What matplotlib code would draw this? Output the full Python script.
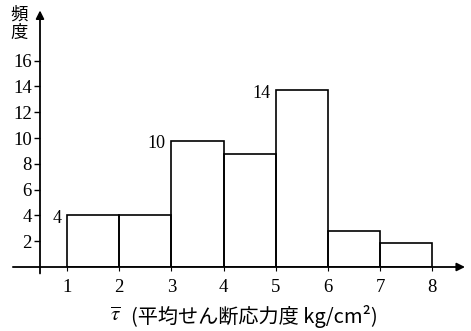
import matplotlib
matplotlib.use("Agg")
import matplotlib.pyplot as plt

# Data
bin_edges = [1, 2, 3, 4, 5, 6, 7, 8]
freq = [4, 4, 9.8, 8.8, 13.7, 2.8, 1.9]
bar_labels = {0: "4", 2: "10", 4: "14"}
yticks = [2, 4, 6, 8, 10, 12, 14, 16]
xticks = [1, 2, 3, 4, 5, 6, 7, 8]
ylabel_text = "頻\n度"
xlabel_text = "(平均せん断応力度 kg/cm²)"

W, H = 471, 331
fig = plt.figure(figsize=(W / 100, H / 100), dpi=100)
fig.patch.set_facecolor("white")
plt.rcParams["mathtext.fontset"] = "stix"

# axes from pixel x=40..465, y (top-origin) 267..13
x0, x1 = 40, 465
y0, y1 = 267, 13
ax = fig.add_axes([x0 / W, (H - y0) / H, (x1 - x0) / W, (y0 - y1) / H])
ax.set_xlim(0.48, 8.63)
ax.set_ylim(0, 19.7)
for s in ax.spines.values():
    s.set_visible(False)
ax.patch.set_alpha(0)

serif = "Liberation Serif"
cjk = ["Noto Sans CJK JP", "DejaVu Sans"]

ax.bar(bin_edges[:-1], freq, width=1, align="edge", fill=False,
       edgecolor="black", linewidth=1.2, zorder=3)

for i, lab in bar_labels.items():
    ax.annotate(lab, (bin_edges[i], freq[i]), xytext=(-4, -2),
                textcoords="offset points", ha="right", va="center",
                fontsize=13, family=serif)

# axis lines with arrows
ax.annotate("", xy=(8.63, 0), xytext=(-0.04, 0), annotation_clip=False,
            arrowprops=dict(arrowstyle="-|>", lw=1.3, color="black",
                            mutation_scale=12, shrinkA=0, shrinkB=0))
ax.annotate("", xy=(0.48, 19.9), xytext=(0.48, -0.5), annotation_clip=False,
            arrowprops=dict(arrowstyle="-|>", lw=1.3, color="black",
                            mutation_scale=12, shrinkA=0, shrinkB=0))

ax.set_yticks(yticks)
ax.set_yticklabels([str(t) for t in yticks], family=serif, fontsize=13.5)
ax.set_xticks(xticks)
ax.set_xticklabels([str(t) for t in xticks], family=serif, fontsize=13.5)
ax.tick_params(axis="y", direction="out", length=4, width=1, pad=2)
ax.tick_params(axis="x", direction="out", length=3, width=0.8, pad=6)

fig.text(19 / W, 1 - 24 / H, ylabel_text, ha="center", va="center",
         fontsize=12.5, family=cjk, linespacing=1.0)
fig.text(115 / W, 1 - 315 / H, r"$\overline{\tau}$", ha="center", va="center",
         fontsize=15)
fig.text(131 / W, 1 - 316 / H, xlabel_text, ha="left", va="center",
         fontsize=14.5, family=cjk)

fig.savefig("out.png", dpi=100)
